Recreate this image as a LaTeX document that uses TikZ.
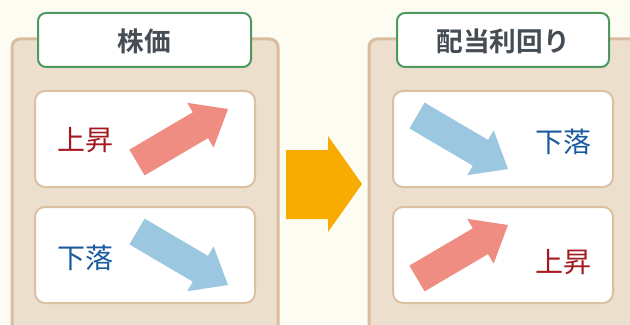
\documentclass[tikz,border=0pt]{standalone}
\usepackage{fontspec}
\newfontfamily\jpfont{Noto Sans CJK JP}[BoldFont={Noto Sans CJK JP Bold}]

\definecolor{bgcream}{RGB}{253,252,243}
\definecolor{panelfill}{RGB}{237,223,206}
\definecolor{paneledge}{RGB}{218,188,158}
\definecolor{boxedge}{RGB}{220,192,162}
\definecolor{titleedge}{RGB}{78,154,94}
\definecolor{titletext}{RGB}{69,76,83}
\definecolor{uptext}{RGB}{162,25,31}
\definecolor{downtext}{RGB}{26,90,158}
\definecolor{uparrow}{RGB}{240,141,131}
\definecolor{downarrow}{RGB}{155,200,224}
\definecolor{nextarrow}{RGB}{248,171,0}

\begin{document}
\begin{tikzpicture}[x=0.75pt,y=0.75pt,yscale=-1,xscale=1,
  panel/.style={draw=paneledge,fill=panelfill,line width=2.25pt,rounded corners=6pt},
  itembox/.style={draw=boxedge,fill=white,line width=1.5pt,rounded corners=7.5pt},
  titlebox/.style={draw=titleedge,fill=white,line width=1.5pt,rounded corners=6pt},
  titlelabel/.style={inner sep=0.75pt,text=titletext,font=\jpfont\bfseries\fontsize{20pt}{24pt}\selectfont},
  itemlabel/.style={inner sep=0.75pt,font=\jpfont\fontsize{21pt}{25pt}\selectfont}]
\clip (0,0) rectangle (630,324);
\fill[bgcream] (0,0) rectangle (630,324);

%Panels
\draw[panel] (12,39) rectangle (278,340);
\draw[panel] (369,39) rectangle (660,340);
%Title boxes
\draw[titlebox] (38,13) rectangle (251,67);
\draw[titlebox] (397,13) rectangle (609,67);
%Item boxes
\draw[itembox] (35,91) rectangle (255,187);
\draw[itembox] (35,207) rectangle (255,303);
\draw[itembox] (393,91) rectangle (613,187);
\draw[itembox] (393,207) rectangle (613,303);

%Arrows left
\fill[uparrow] (129.4,149.6) -- (192.8,112.3) -- (187.2,102.8) -- (228,109) -- (213.6,147.6) -- (208.0,138.1) -- (144.6,175.4) -- cycle;
\fill[downarrow] (129.4,244.4) -- (192.8,281.7) -- (187.2,291.2) -- (228,285) -- (213.6,246.4) -- (208.0,255.9) -- (144.6,218.6) -- cycle;
%Arrows right
\fill[downarrow] (409.4,128.4) -- (472.8,165.7) -- (467.2,175.2) -- (508,169) -- (493.6,130.4) -- (488.0,139.9) -- (424.6,102.6) -- cycle;
\fill[uparrow] (409.4,265.6) -- (472.8,228.3) -- (467.2,218.8) -- (508,225) -- (493.6,263.6) -- (488.0,254.1) -- (424.6,291.4) -- cycle;
%Big arrow
\fill[nextarrow] (286,150) -- (328,150) -- (328,136) -- (362,184) -- (328,232) -- (328,219) -- (286,219) -- cycle;

% Text Node
\node[titlelabel] (stocktitle) at (144,41) {株価};
\node[titlelabel] (yieldtitle) at (503,41) {配当利回り};
% Text Node
\node[itemlabel,text=uptext] (stockup) at (85,140) {上昇};
\node[itemlabel,text=downtext] (stockdown) at (85,258) {下落};
\node[itemlabel,text=downtext] (yielddown) at (563,142) {下落};
\node[itemlabel,text=uptext] (yieldup) at (563,262) {上昇};

\end{tikzpicture}
\end{document}
